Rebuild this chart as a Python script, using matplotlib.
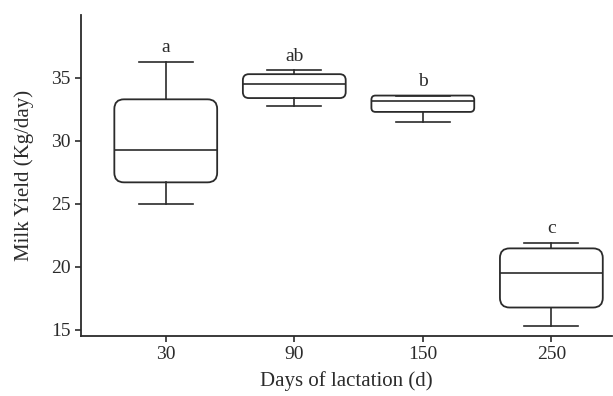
import matplotlib
matplotlib.use("Agg")
import matplotlib.pyplot as plt
from matplotlib.patches import FancyBboxPatch

plt.rcParams["font.family"] = ["Liberation Serif", "DejaVu Serif"]

days = ["30", "90", "150", "250"]
whisker_low = [25.0, 32.8, 31.5, 15.3]
q1 = [26.7, 33.4, 32.3, 16.75]
median = [29.3, 34.5, 33.2, 19.5]
q3 = [33.3, 35.3, 33.6, 21.45]
whisker_high = [36.3, 35.6, 33.6, 21.9]
letters = ["a", "ab", "b", "c"]

col = "#2b2b2b"
fig = plt.figure(figsize=(6.13, 3.96), dpi=100)
ax = fig.add_axes([0.132, 0.152, 0.866, 0.81])

stats = []
for i in range(len(days)):
    stats.append(dict(whislo=whisker_low[i], q1=q1[i], med=median[i],
                      q3=q3[i], whishi=whisker_high[i], fliers=[]))

pos = list(range(1, len(days) + 1))
res = ax.bxp(stats, positions=pos, widths=0.8, capwidths=0.42,
             showfliers=False,
             boxprops=dict(visible=False),
             whiskerprops=dict(color=col, lw=1.2),
             capprops=dict(color=col, lw=1.2),
             medianprops=dict(color=col, lw=1.2))

# rounded boxes
aspect = 10.2
for i, p in enumerate(pos):
    h = q3[i] - q1[i]
    r = min(0.075, 0.25 * h / aspect)
    box = FancyBboxPatch((p - 0.4, q1[i]), 0.8, h,
                         boxstyle=f"round,pad=0,rounding_size={r}",
                         mutation_aspect=aspect,
                         fc="none", ec=col, lw=1.3, zorder=3)
    ax.add_patch(box)
    ax.text(p, whisker_high[i] + 1.1, letters[i], ha="center", va="center",
            fontsize=14, color=col)

ax.set_xlim(0.34, 4.47)
ax.set_ylim(14.5, 40)
ax.set_xticks(pos)
ax.set_xticklabels(days)
ax.set_yticks([15, 20, 25, 30, 35])
ax.tick_params(labelsize=14, colors=col, length=4, width=1.2)
for s in ["top", "right"]:
    ax.spines[s].set_visible(False)
for s in ["left", "bottom"]:
    ax.spines[s].set_color(col)
    ax.spines[s].set_linewidth(1.3)
ax.set_xlabel("Days of lactation (d)", fontsize=15, color=col, labelpad=6)
ax.set_ylabel("Milk Yield (Kg/day)", fontsize=15, color=col, labelpad=12)

fig.savefig("out.png", dpi=100)
